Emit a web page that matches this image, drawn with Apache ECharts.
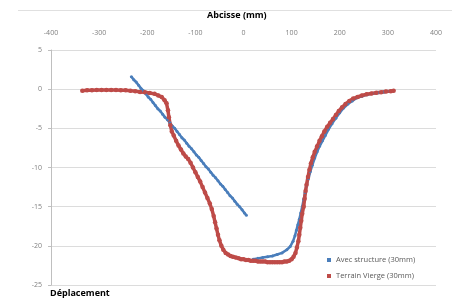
<!DOCTYPE html>
<html>
<head>
<meta charset="utf-8">
<script src="https://cdn.jsdelivr.net/npm/echarts@6/dist/echarts.min.js"></script>
<style>
  html, body { margin: 0; padding: 0; background: #fff; }
  #chart { width: 452px; height: 303px; }
</style>
</head>
<body>
<div id="chart"></div>
<script>
// tick labels
var xTicks = [-400, -300, -200, -100, 0, 100, 200, 300, 400];
var yTicks = [5, 0, -5, -10, -15, -20, -25];

// Avec structure (30mm) - abscisse (mm), déplacement ; null = coupure entre les deux mesures
var blueX = [-233, -228, -223, -218, -213, -208, -203, -198, -193, -188, -183, -178, -173, -168, -163, -158,
  -153, -148, -143, -138, -133, -128, -123, -118, -113, -108, -103, -98, -93, -88, -83, -78, -73, -68, -63,
  -58, -53, -48, -43, -38, -33, -28, -23, -18, -13, -8, -3, 2, 6, null,
  20, 30, 40, 50, 60, 70, 80, 90, 97, 103, 107, 110, 113, 116, 119, 122, 125, 128, 131, 135, 139, 143,
  148, 153, 158, 164, 170, 177, 184, 192, 200, 208, 217, 226, 236, 246, 257, 268, 280, 292, 304, 312];
var blueY = [1.6, 1.2, 0.9, 0.5, 0.1, -0.2, -0.6, -1.0, -1.3, -1.7, -2.1, -2.5, -2.8, -3.2, -3.6, -3.9,
  -4.3, -4.7, -5.0, -5.4, -5.8, -6.2, -6.5, -6.9, -7.3, -7.6, -8.0, -8.4, -8.7, -9.1, -9.5, -9.9, -10.2, -10.6, -11.0,
  -11.3, -11.7, -12.1, -12.4, -12.8, -13.2, -13.6, -13.9, -14.3, -14.7, -15.0, -15.4, -15.8, -16.1, null,
  -21.7, -21.6, -21.5, -21.4, -21.3, -21.1, -20.9, -20.5, -20.1, -19.4, -18.7, -18.0, -17.3, -16.6, -15.8, -15.0, -14.1, -13.2, -12.3, -11.4, -10.5, -9.7,
  -8.8, -8.0, -7.3, -6.6, -5.9, -5.1, -4.4, -3.7, -3.0, -2.4, -1.9, -1.5, -1.1, -0.9, -0.7, -0.55, -0.45, -0.35, -0.25, -0.2];

// Terrain Vierge (30mm)
var redX = [-335, -325, -315, -305, -295, -285, -275, -265, -255, -245, -235, -225, -215, -205, -195, -185,
  -177, -170, -164, -160, -157, -155, -152, -149, -145, -140, -135, -130, -125, -120, -115, -110, -105, -100,
  -95, -90, -85, -80, -75, -70, -66, -62, -59, -56, -53, -50, -46, -42, -37, -32, -27, -22, -16, -10, -5, 0,
  5, 10, 15, 20, 25, 30, 35, 40, 45, 50, 55, 60, 65, 70, 75, 80, 85, 90, 95, 100, 104, 108, 111, 114, 116,
  118, 120, 122, 125, 127, 129, 131, 134, 137, 140, 144, 148, 153, 158, 163, 168, 174, 180, 186, 192, 198,
  205, 212, 220, 228, 237, 246, 256, 266, 276, 286, 296, 306, 312];
var redY = [-0.2, -0.15, -0.15, -0.1, -0.1, -0.1, -0.1, -0.1, -0.15, -0.15, -0.2, -0.25, -0.35, -0.4, -0.5, -0.6,
  -0.8, -1.0, -1.4, -1.8, -2.7, -3.6, -4.6, -5.4, -5.9, -6.6, -7.2, -7.7, -8.2, -8.6, -8.9, -9.4, -10.0, -10.6,
  -11.2, -11.8, -12.5, -13.2, -13.9, -14.6, -15.3, -16.2, -17.0, -17.8, -18.6, -19.3, -20.0, -20.5, -20.9, -21.1, -21.3, -21.4, -21.5, -21.6, -21.7, -21.7,
  -21.8, -21.8, -21.9, -21.9, -21.9, -22.0, -22.0, -22.0, -22.0, -22.1, -22.1, -22.1, -22.1, -22.1, -22.1, -22.1, -22.0, -22.0, -21.9, -21.7, -21.4, -20.9, -20.2, -19.4, -18.6,
  -17.7, -16.8, -15.9, -15.0, -14.0, -13.0, -12.2, -11.2, -10.3, -9.5, -8.7, -8.0, -7.3, -6.6, -6.0, -5.4, -4.8, -4.3, -3.8, -3.3, -2.8,
  -2.3, -1.9, -1.5, -1.2, -1.0, -0.8, -0.65, -0.55, -0.45, -0.4, -0.3, -0.25, -0.2];

function pairs(xs, ys) {
  return xs.map(function (x, i) { return x === null ? "-" : [x, ys[i]]; });
}

var font = "'Open Sans', 'Noto Sans', sans-serif";
var chart = echarts.init(document.getElementById("chart"), null, { renderer: "canvas" });

chart.setOption({
  animation: false,
  backgroundColor: "#fff",
  textStyle: { fontFamily: font },
  grid: { left: 51, right: 16, top: 50, bottom: 18 },
  legend: {
    orient: "vertical",
    left: 322,
    top: 251,
    itemWidth: 4,
    itemHeight: 4,
    itemGap: 8,
    icon: "rect",
    textStyle: { fontSize: 7.5, color: "#595959", fontFamily: font },
    data: ["Avec structure (30mm)", "Terrain Vierge (30mm)"]
  },
  xAxis: {
    type: "value",
    position: "top",
    min: xTicks[0],
    max: xTicks[xTicks.length - 1],
    interval: 100,
    axisLine: { show: false },
    axisTick: { show: false },
    splitLine: { show: false },
    axisLabel: { fontSize: 7, color: "#7f7f7f", margin: 14, fontFamily: font }
  },
  yAxis: {
    type: "value",
    min: yTicks[yTicks.length - 1],
    max: yTicks[0],
    interval: 5,
    axisLine: { show: true, onZero: false, lineStyle: { color: "#bfbfbf" } },
    axisTick: { show: true, length: 3, lineStyle: { color: "#bfbfbf" } },
    splitLine: { show: true, lineStyle: { color: "#dcdcdc", width: 1 } },
    axisLabel: { fontSize: 7, color: "#7f7f7f", margin: 9, fontFamily: font }
  },
  series: [
    {
      name: "Avec structure (30mm)",
      type: "line",
      symbol: "circle",
      symbolSize: 3,
      showAllSymbol: true,
      connectNulls: false,
      lineStyle: { color: "#4a7ebb", width: 2.5 },
      itemStyle: { color: "#4a7ebb" },
      data: pairs(blueX, blueY)
    },
    {
      name: "Terrain Vierge (30mm)",
      type: "line",
      symbol: "circle",
      symbolSize: 4.5,
      showAllSymbol: true,
      lineStyle: { color: "#be4b48", width: 3.5 },
      itemStyle: { color: "#be4b48" },
      data: pairs(redX, redY)
    }
  ],
  graphic: [
    { type: "line", shape: { x1: 18, y1: 10.5, x2: 452, y2: 10.5 }, style: { stroke: "#e0e0e0", lineWidth: 1 } },
    { type: "text", left: 207, top: 11, style: { text: "Abcisse (mm)", font: "bold 9px " + font, fill: "#000" } },
    { type: "text", left: 50, top: 289, style: { text: "Déplacement", font: "bold 9px " + font, fill: "#000" } }
  ]
});
</script>
</body>
</html>
